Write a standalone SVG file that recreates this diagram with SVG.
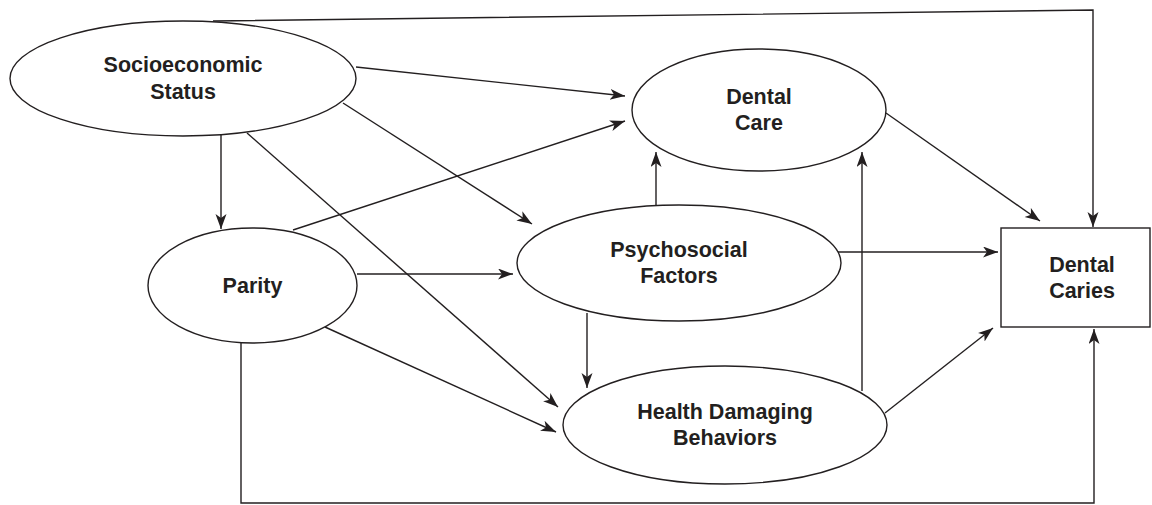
<svg xmlns="http://www.w3.org/2000/svg" width="1152" height="505" viewBox="0 0 1152 505">
<style>
.n{fill:#fff;stroke:#231f20;stroke-width:1.4}
.c{fill:none;stroke:#231f20;stroke-width:1.4;marker-end:url(#ah)}
.t{font-family:"Liberation Sans",Arial,sans-serif;font-weight:bold;font-size:21.5px;fill:#231f20;text-anchor:middle}
</style>
<defs>
<marker id="ah" markerUnits="userSpaceOnUse" markerWidth="16" markerHeight="12" refX="15" refY="5.5" orient="auto">
<path d="M0,0 L15,5.5 L0,11 L4,5.5 Z" fill="#231f20"/>
</marker>
</defs>
<rect width="1152" height="505" fill="#fff"/>
<g id="connectors">
<polyline class="c" points="213,21 1093,10 1093,227"/>
<line class="c" x1="356" y1="67" x2="625" y2="96"/>
<line class="c" x1="343" y1="103" x2="532" y2="224"/>
<line class="c" x1="221" y1="135" x2="221" y2="229"/>
<line class="c" x1="247" y1="133" x2="558" y2="407"/>
<line class="c" x1="293" y1="230" x2="625" y2="121"/>
<line class="c" x1="357" y1="274" x2="513" y2="274"/>
<line class="c" x1="325" y1="327" x2="556" y2="432"/>
<polyline class="c" points="241,343 241,503 1094,503 1094,329"/>
<line class="c" x1="656" y1="205" x2="656" y2="152"/>
<line class="c" x1="838" y1="252" x2="998" y2="252"/>
<line class="c" x1="587" y1="313" x2="587" y2="388"/>
<line class="c" x1="886" y1="113" x2="1040" y2="221"/>
<line class="c" x1="862" y1="391" x2="862" y2="152"/>
<line class="c" x1="885" y1="413" x2="993" y2="328"/>
</g>
<g id="ses">
<ellipse class="n" cx="183" cy="78.5" rx="173" ry="57.5"/>
<text class="t" x="183" y="72">Socioeconomic</text>
<text class="t" x="183" y="99">Status</text>
</g>
<g id="dental-care">
<ellipse class="n" cx="759" cy="110" rx="127" ry="61"/>
<text class="t" x="759" y="104">Dental</text>
<text class="t" x="759" y="130">Care</text>
</g>
<g id="parity">
<ellipse class="n" cx="252.5" cy="285.5" rx="104.5" ry="57.5"/>
<text class="t" x="252.5" y="293">Parity</text>
</g>
<g id="psychosocial">
<ellipse class="n" cx="679" cy="263" rx="162" ry="58"/>
<text class="t" x="679" y="257">Psychosocial</text>
<text class="t" x="679" y="283">Factors</text>
</g>
<g id="hdb">
<ellipse class="n" cx="725" cy="425" rx="162" ry="59"/>
<text class="t" x="725" y="419">Health Damaging</text>
<text class="t" x="725" y="445">Behaviors</text>
</g>
<g id="dental-caries">
<rect class="n" x="1001" y="228" width="149" height="99"/>
<text class="t" x="1082" y="272">Dental</text>
<text class="t" x="1082" y="298">Caries</text>
</g>
</svg>
